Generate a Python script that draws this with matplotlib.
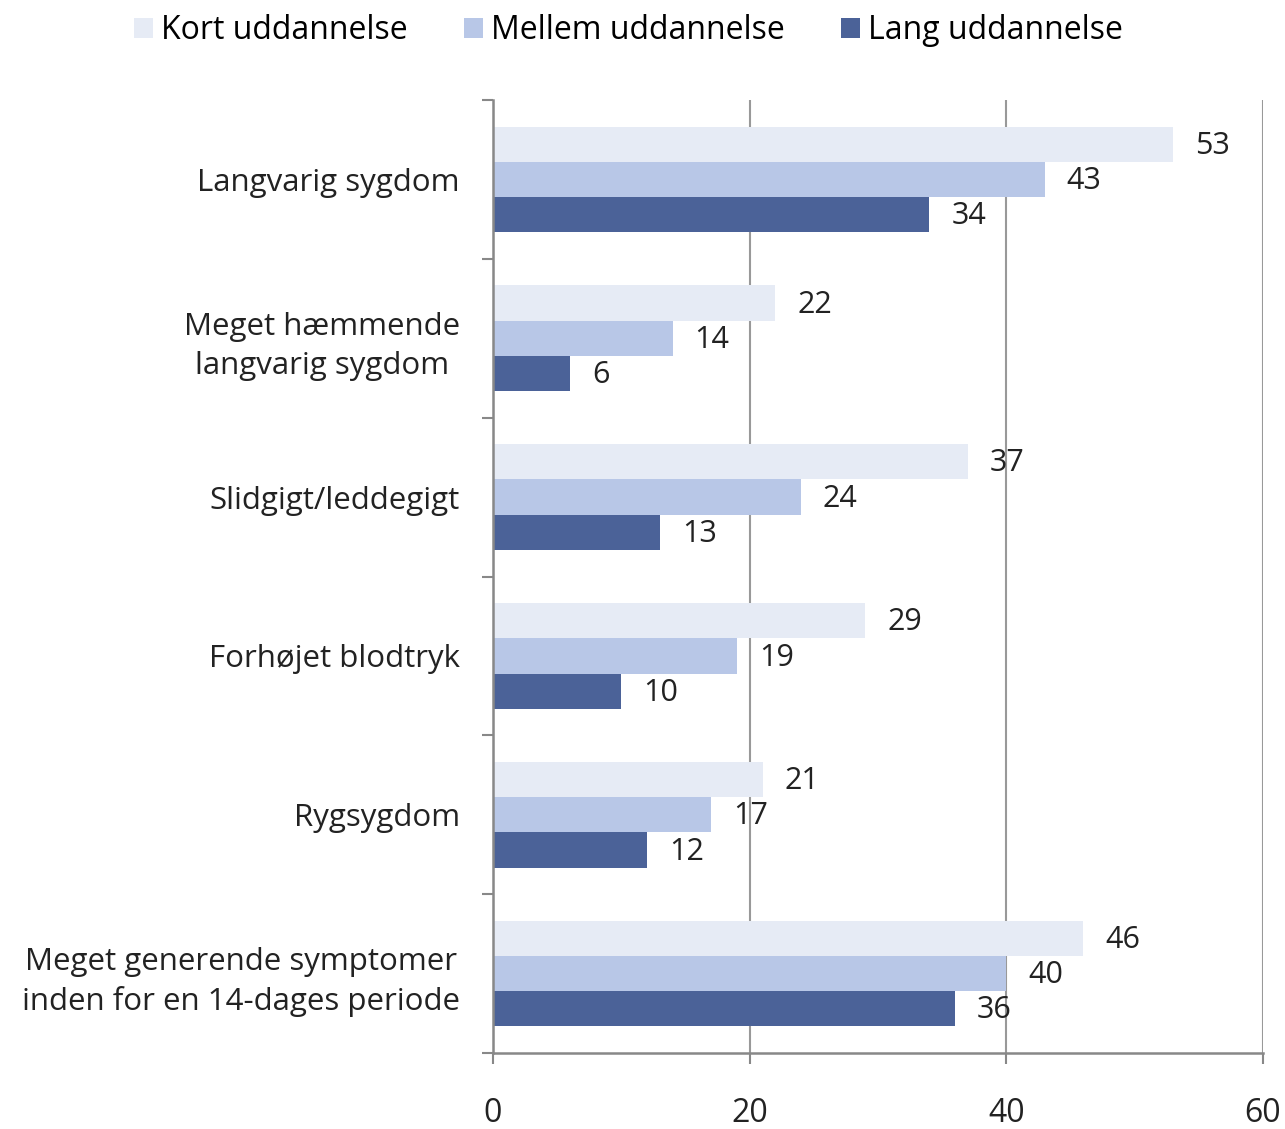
import numpy as np
import matplotlib
matplotlib.use("Agg")
import matplotlib.pyplot as plt
from matplotlib.patches import Patch

plt.rcParams['font.family'] = ['Open Sans', 'DejaVu Sans']

categories = ["Langvarig sygdom",
              "Meget hæmmende\nlangvarig sygdom",
              "Slidgigt/leddegigt",
              "Forhøjet blodtryk",
              "Rygsygdom",
              "Meget generende symptomer\ninden for en 14-dages periode"]
series = ["Kort uddannelse", "Mellem uddannelse", "Lang uddannelse"]
kort = [53, 22, 37, 29, 21, 46]
mellem = [43, 14, 24, 19, 17, 40]
lang = [34, 6, 13, 10, 12, 36]
colors = ["#e6ebf5", "#b8c7e7", "#4b6298"]
xticks = [0, 20, 40, 60]

fig = plt.figure(figsize=(12.85, 11.29), dpi=100)
ax = fig.add_axes([0.3837, 0.0673, 0.5992, 0.8441])

n = len(categories)
y = np.arange(n)
h = 0.222
for i, (vals, col) in enumerate(zip([kort, mellem, lang], colors)):
    pos = y + (i - 1) * h
    ax.barh(pos, vals, height=h, color=col, zorder=2)
    for p, v in zip(pos, vals):
        ax.text(v + 1.7, p + 0.01, str(v), va="center", ha="left",
                fontsize=22, color="#222222", zorder=3)

ax.set_ylim(n - 0.5, -0.5)
ax.set_xlim(0, 60)
ax.set_yticks(np.arange(n + 1) - 0.5)
ax.set_yticklabels([])
ax.set_yticks(y, minor=True)
ax.set_yticklabels(categories, minor=True, fontsize=22.5, ha="right",
                   multialignment="center", linespacing=1.4, color="#222222")
ax.tick_params(axis="y", which="minor", length=0, pad=24)
ax.tick_params(axis="y", which="major", length=8, width=1.5, color="#888888")

ax.set_xticks(xticks)
ax.set_xticklabels([str(t) for t in xticks], fontsize=23, color="#222222")
ax.tick_params(axis="x", length=8, width=1.5, color="#888888", pad=24)

ax.grid(axis="x", color="#999999", linewidth=1.5, zorder=1)
for s in ["top", "right"]:
    ax.spines[s].set_visible(False)
for s in ["left", "bottom"]:
    ax.spines[s].set_color("#888888")
    ax.spines[s].set_linewidth(1.8)

handles = [Patch(facecolor=c, edgecolor="none") for c in colors]
fig.legend(handles, series, loc="center", bbox_to_anchor=(0.489, 0.973),
           ncol=3, frameon=False, fontsize=23, handlelength=0.6,
           handleheight=0.6, handletextpad=0.25, columnspacing=1.75)

fig.savefig("out.png", dpi=100, facecolor="white")
